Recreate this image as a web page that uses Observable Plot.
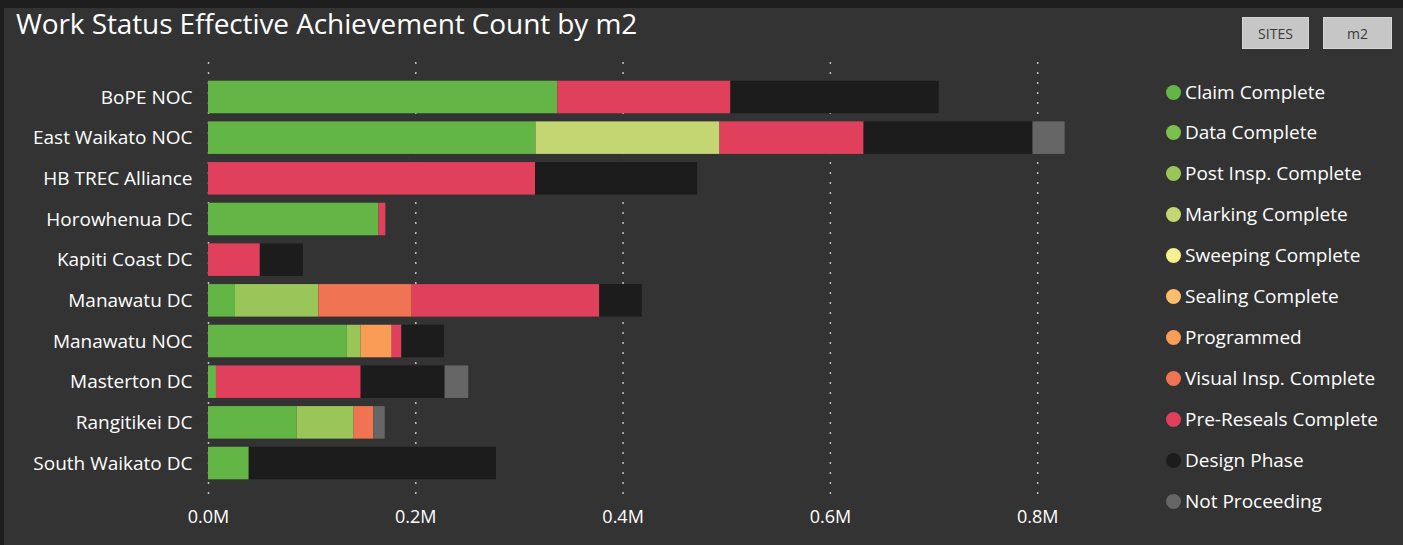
<!DOCTYPE html>
<html>
<head>
<meta charset="utf-8">
<script src="https://cdn.jsdelivr.net/npm/d3@7"></script>
<script src="https://cdn.jsdelivr.net/npm/@observablehq/plot@0.6"></script>
<style>
  html, body { margin: 0; padding: 0; background: #1e1e1e; }
  #root { position: relative; width: 1403px; height: 545px; overflow: hidden; background: #1e1e1e; font-family: "Open Sans", "Noto Sans", sans-serif; }
  #panel { position: absolute; left: 4px; top: 8px; right: 0; bottom: 0; background: #333333; }
  #title { position: absolute; left: 16px; top: 4px; color: #ffffff; font-size: 28px; letter-spacing: -0.1px; white-space: nowrap; }
  #chart { position: absolute; left: 0; top: 0; }
  .btn { position: absolute; top: 17px; height: 32px; background: #c6c6c6; border: 1px solid #d6d6d6; box-sizing: border-box; color: #3a3a3a; font-size: 14px; display: flex; align-items: center; justify-content: center; }
  #legend { position: absolute; left: 1166px; top: 0; }
  .li { position: absolute; left: 0; height: 24px; display: flex; align-items: center; white-space: nowrap; color: #ffffff; font-size: 19px; letter-spacing: 0px; }
  .dot { width: 15px; height: 15px; border-radius: 50%; margin-right: 4px; flex: none; }
</style>
</head>
<body>
<div id="root">
  <div id="panel"></div>
  <div id="title">Work Status Effective Achievement Count by m2</div>
  <div class="btn" style="left:1242px;width:67px;">SITES</div>
  <div class="btn" style="left:1323px;width:69px;">m2</div>
  <div id="chart"></div>
  <div id="legend"></div>
</div>
<script>
const sites = ["BoPE NOC", "East Waikato NOC", "HB TREC Alliance", "Horowhenua DC", "Kapiti Coast DC", "Manawatu DC", "Manawatu NOC", "Masterton DC", "Rangitikei DC", "South Waikato DC"];
const statuses = ["Claim Complete", "Data Complete", "Post Insp. Complete", "Marking Complete", "Sweeping Complete", "Sealing Complete", "Programmed", "Visual Insp. Complete", "Pre-Reseals Complete", "Design Phase", "Not Proceeding"];
const statusColors = ["#63b545", "#7bc04f", "#9ac659", "#c4d672", "#f6ee8f", "#fbbe6b", "#f99d56", "#f07353", "#e0405b", "#1c1c1c", "#666666"];

const claimComplete      = [337000, 316000, 0, 164500, 0, 26000, 134000, 7700, 85500, 39300];
const dataComplete       = [0, 0, 0, 0, 0, 0, 0, 0, 0, 0];
const postInspComplete   = [0, 0, 0, 0, 0, 80500, 13200, 0, 55000, 0];
const markingComplete    = [0, 177500, 0, 0, 0, 0, 0, 0, 0, 0];
const sweepingComplete   = [0, 0, 0, 0, 0, 0, 0, 0, 0, 0];
const sealingComplete    = [0, 0, 0, 0, 0, 0, 0, 0, 0, 0];
const programmed         = [0, 0, 0, 0, 0, 0, 30000, 0, 0, 0];
const visualInspComplete = [0, 0, 0, 0, 0, 90000, 0, 0, 19000, 0];
const preResealsComplete = [167000, 139000, 315500, 6600, 50000, 181000, 9400, 139600, 0, 0];
const designPhase        = [201000, 163000, 156500, 0, 41500, 41000, 41000, 81000, 0, 238600];
const notProceeding      = [0, 31000, 0, 0, 0, 0, 0, 22800, 11000, 0];

const xTicks = [0, 200000, 400000, 600000, 800000];

const seriesValues = [claimComplete, dataComplete, postInspComplete, markingComplete, sweepingComplete, sealingComplete, programmed, visualInspComplete, preResealsComplete, designPhase, notProceeding];
const rows = [];
statuses.forEach((s, i) => {
  sites.forEach((site, j) => {
    const v = seriesValues[i][j];
    if (v > 0) rows.push({site, status: s, value: v});
  });
});

const fmt = d => (d / 1e6).toFixed(1) + "M";

const plot = Plot.plot({
  width: 1100,
  height: 545,
  marginLeft: 208,
  marginRight: 11,
  marginTop: 62,
  marginBottom: 47,
  style: {background: "transparent", color: "#ffffff", fontFamily: "'Open Sans', 'Noto Sans', sans-serif", fontSize: "18px"},
  x: {domain: [0, 850000], ticks: xTicks, tickFormat: fmt, label: null},
  y: {domain: sites, label: null, paddingInner: 0.2, paddingOuter: 0.46, round: false},
  color: {domain: statuses, range: statusColors},
  marks: [
    Plot.gridX(xTicks, {stroke: "#d8d8d8", strokeOpacity: 0.85, strokeWidth: 1.5, strokeDasharray: "2,8"}),
    Plot.barX(rows, Plot.stackX({x: "value", y: "site", fill: "status", order: statuses})),
    Plot.axisX({ticks: xTicks, tickFormat: fmt, tickSize: 0, tickPadding: 12, fontSize: 18, label: null}),
    Plot.axisY({tickSize: 0, tickPadding: 16, fontSize: 19, label: null})
  ]
});
document.getElementById("chart").appendChild(plot);

const legend = document.getElementById("legend");
const legendTops = [80, 120, 161, 202, 243, 284, 325, 366, 407, 448, 489];
statuses.forEach((s, i) => {
  const el = document.createElement("div");
  el.className = "li";
  el.style.top = legendTops[i] + "px";
  el.innerHTML = `<span class="dot" style="background:${statusColors[i]}"></span><span>${s}</span>`;
  legend.appendChild(el);
});
</script>
</body>
</html>
